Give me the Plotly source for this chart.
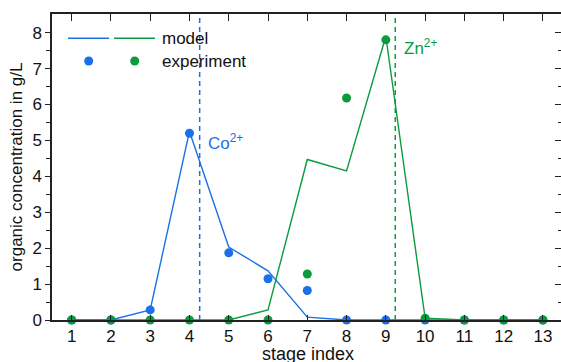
import plotly.graph_objects as go

stages = list(range(1, 14))
co_model = [0, 0, 0.28, 5.25, 2.03, 1.37, 0.08, 0, 0, 0, 0, 0, 0]
zn_model = [0, 0, 0, 0, 0, 0.28, 4.47, 4.15, 7.9, 0.05, 0, 0, 0]
co_exp = [0, 0, 0.28, 5.2, 1.87, 1.15, 0.82, 0, 0, 0, 0, 0, 0]
zn_exp = [0, 0, 0, 0, 0, 0, 1.28, 6.18, 7.8, 0.05, 0, 0, 0]
co_line_x = 4.26
zn_line_x = 9.24
labels = ["Co<sup>2+</sup>", "Zn<sup>2+</sup>"]
x_title = "stage index"
y_title = "organic concentration in g/L"

BLUE = "#1a70e8"
GREEN = "#0b9b3f"
FONT = "Liberation Sans, Arial, sans-serif"
W, H = 561, 362
L, R, T, B = 52, 0, 14, 42
XR = [0.5, 13.46]
YR = [0, 8.52]

def px2paper_x(px):
    return (px - L) / (W - L - R)

def px2paper_y(py):
    return 1 - (py - T) / (H - T - B)

fig = go.Figure()
fig.add_trace(go.Scatter(x=stages, y=co_model, mode="lines", line=dict(color=BLUE, width=1.4), showlegend=False))
fig.add_trace(go.Scatter(x=stages, y=zn_model, mode="lines", line=dict(color=GREEN, width=1.4), showlegend=False))
fig.add_trace(go.Scatter(x=stages, y=co_exp, mode="markers", marker=dict(color=BLUE, size=9), showlegend=False, cliponaxis=False))
fig.add_trace(go.Scatter(x=stages, y=zn_exp, mode="markers", marker=dict(color=GREEN, size=9), showlegend=False, cliponaxis=False))
fig.add_trace(go.Scatter(x=[None], y=[None], xaxis="x2", yaxis="y2", showlegend=False))

shapes = []
for xv, col in [(co_line_x, BLUE), (zn_line_x, GREEN)]:
    shapes.append(dict(type="line", xref="x", yref="paper", x0=xv, x1=xv, y0=0, y1=1,
                       line=dict(color=col, width=1.5, dash="5px,4px")))
# legend samples
ly1 = px2paper_y(38.3)
ly2 = px2paper_y(61)
shapes.append(dict(type="line", xref="paper", yref="paper", x0=px2paper_x(68), x1=px2paper_x(109), y0=ly1, y1=ly1, line=dict(color=BLUE, width=1.4)))
shapes.append(dict(type="line", xref="paper", yref="paper", x0=px2paper_x(114), x1=px2paper_x(155), y0=ly1, y1=ly1, line=dict(color=GREEN, width=1.4)))
for cx, col in [(88.7, BLUE), (134.7, GREEN)]:
    shapes.append(dict(type="circle", xref="paper", yref="paper", xsizemode="pixel", ysizemode="pixel",
                       xanchor=px2paper_x(cx), yanchor=ly2, x0=-4.5, x1=4.5, y0=-4.5, y1=4.5,
                       fillcolor=col, line=dict(width=0)))

annotations = [
    dict(x=px2paper_x(160), y=ly1, xref="paper", yref="paper", text="model", showarrow=False,
         xanchor="left", yanchor="middle", font=dict(size=17, color="#111", family=FONT)),
    dict(x=px2paper_x(160), y=ly2, xref="paper", yref="paper", text="experiment", showarrow=False,
         xanchor="left", yanchor="middle", font=dict(size=17, color="#111", family=FONT)),
    dict(x=4.42, y=4.95, xref="x", yref="y", text=labels[0], showarrow=False,
         xanchor="left", yanchor="middle", font=dict(size=17, color=BLUE, family=FONT)),
    dict(x=9.4, y=7.6, xref="x", yref="y", text=labels[1], showarrow=False,
         xanchor="left", yanchor="middle", font=dict(size=17, color=GREEN, family=FONT)),
    dict(x=px2paper_x(308), y=px2paper_y(353.5), xref="paper", yref="paper", text=x_title, showarrow=False,
         xanchor="center", yanchor="middle", font=dict(size=18, color="#111", family=FONT)),
]

axcol = "#222"
fig.update_layout(
    width=W, height=H,
    margin=dict(l=L, r=R, t=T, b=B, pad=0, autoexpand=False),
    paper_bgcolor="white", plot_bgcolor="white",
    font=dict(family=FONT, size=17, color="#111"),
    shapes=shapes, annotations=annotations,
    xaxis=dict(range=XR, tickvals=stages, ticks="inside", ticklen=5, tickwidth=1.3, tickcolor=axcol,
               showline=True, linecolor=axcol, linewidth=1.5, showgrid=False, zeroline=False, automargin=False,
               tickfont=dict(size=17)),
    yaxis=dict(range=YR, tickvals=list(range(0, 9)), ticks="outside", ticklen=5, tickwidth=1.3, tickcolor=axcol,
               minor=dict(tickvals=[i + 0.5 for i in range(0, 8)], ticks="outside", ticklen=4, tickwidth=1.3, tickcolor=axcol),
               showline=True, linecolor=axcol, linewidth=1.5, showgrid=False, zeroline=False, automargin=False,
               title=dict(text=y_title, standoff=5, font=dict(size=17)),
               tickfont=dict(size=17)),
    xaxis2=dict(range=XR, overlaying="x", side="top", tickvals=stages, ticks="inside", ticklen=7, tickwidth=1.3,
                tickcolor=axcol, showticklabels=False, showline=True, linecolor=axcol, linewidth=1.5,
                showgrid=False, zeroline=False, automargin=False),
    yaxis2=dict(range=YR, overlaying="y", side="right", tickvals=list(range(0, 9)), ticks="inside", ticklen=6,
                tickwidth=1.3, tickcolor=axcol,
                minor=dict(tickvals=[i + 0.5 for i in range(0, 8)], ticks="inside", ticklen=3, tickwidth=1.3, tickcolor=axcol),
                showticklabels=False, showline=True, linecolor=axcol, linewidth=1.5, showgrid=False, zeroline=False,
                automargin=False),
)

fig.write_html("out.html")
